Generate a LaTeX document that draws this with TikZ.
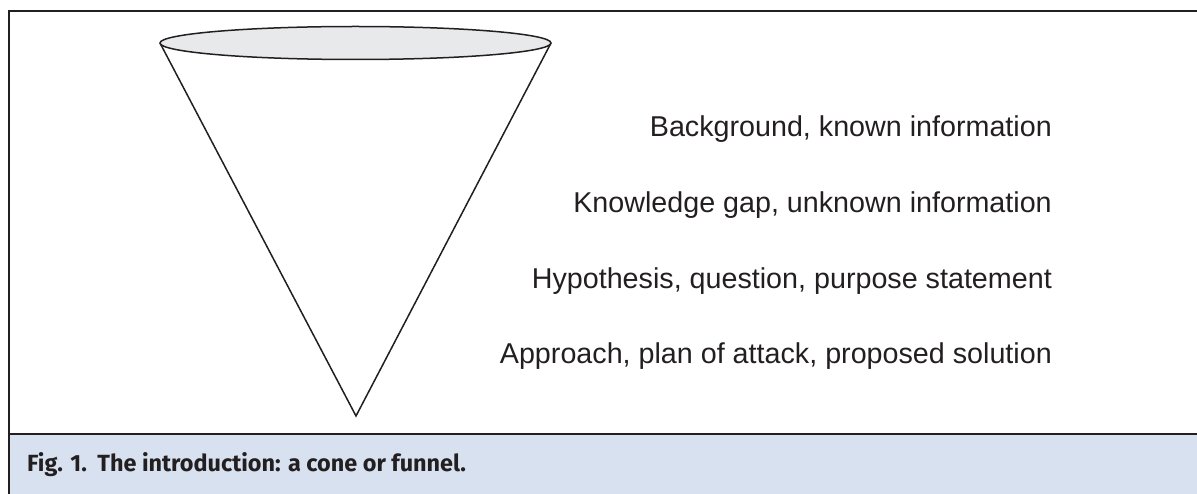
\documentclass[tikz,border=0pt]{standalone}
\usepackage{fontspec}
\setmainfont{Liberation Sans}
\newfontfamily\capfont{Fira Sans}
\usetikzlibrary{positioning}
\definecolor{capblue}{HTML}{D8E1EF}
\definecolor{rimgray}{HTML}{E8E9EB}
\definecolor{inkgray}{HTML}{231F20}

\begin{document}
\begin{tikzpicture}[x=1bp,y=-1bp,
    stagetext/.style={anchor=base east,inner sep=0pt,text=inkgray,
      font=\fontsize{28.8}{30}\selectfont},
    frameline/.style={draw=inkgray,line width=2.7bp},
    coneline/.style={draw=inkgray,line width=1.5bp,line join=miter}]

          \useasboundingbox (0,0) rectangle (1197,494);

          % caption band
          \fill[capblue] (9,434) rectangle (1197,494);
          \coordinate (fl) at (9,494);
          \coordinate (tl) at (9,11);
          \coordinate (tr) at (1197,11);
          \coordinate (dl) at (9,434);
          \coordinate (dr) at (1197,434);
          \draw[frameline] (fl) -- (tl) -- (tr);
          \draw[frameline] (dl) -- (dr);

          % the cone
          \coordinate (rim)  at (355.5,43);
          \coordinate (L)    at (160,43);
          \coordinate (R)    at (551,43);
          \coordinate (apex) at (356,416);
          \draw[coneline] (L) -- (apex) -- (R);
          \draw[coneline,fill=rimgray] (rim) ellipse [x radius=195.5bp,y radius=16.5bp];

          % stages
          \node[stagetext] (bg)   at (1052,137)                     {Background, known information};
          \node[stagetext] (gap)  at ([yshift=-75.5bp]bg.base east)  {Knowledge gap, unknown information};
          \node[stagetext] (hyp)  at ([yshift=-75.5bp]gap.base east) {Hypothesis, question, purpose statement};
          \node[stagetext] (appr) at ([yshift=-75.5bp]hyp.base east) {Approach, plan of attack, proposed solution};

          \node[anchor=base west,inner sep=0pt,text=inkgray,
                font=\capfont\bfseries\fontsize{23.5}{26}\selectfont] (cap) at (27,471)
                {Fig. 1.\hspace{0.45em}The introduction: a cone or funnel.};
        \end{tikzpicture}
\end{document}
